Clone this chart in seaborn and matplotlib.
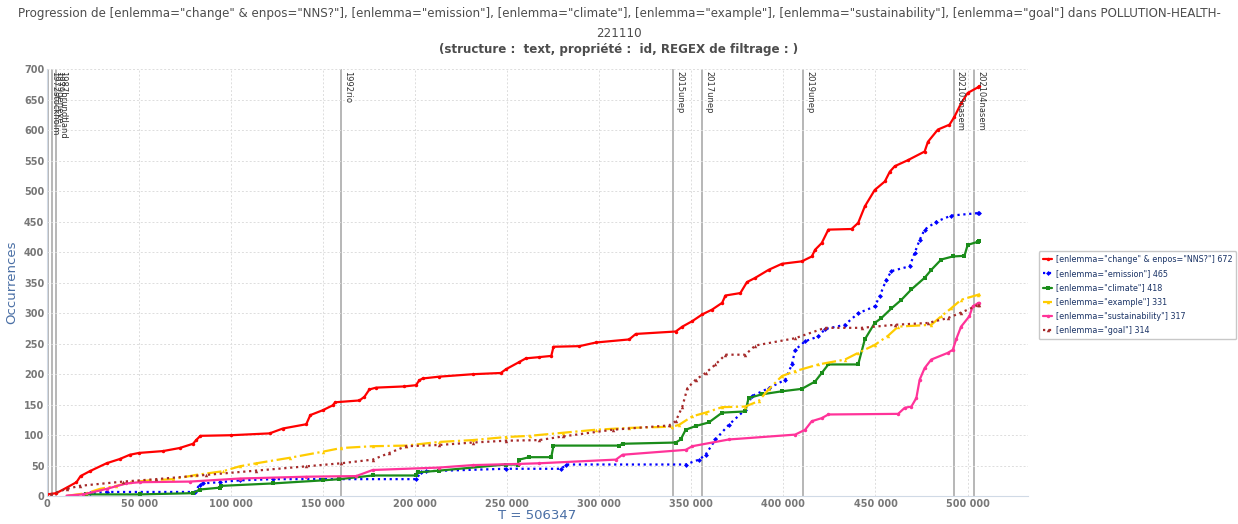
import matplotlib
matplotlib.use("Agg")
import numpy as np
import pandas as pd
import matplotlib.pyplot as plt
import seaborn as sns
from matplotlib.ticker import FuncFormatter, MultipleLocator

# series (position T, cumulated occurrences)
change_x = [0, 5000, 10600, 16000, 18200, 23200, 32300, 39500, 45000, 50000, 63000, 72000, 79300, 81000, 83300,
            100000, 120900, 128100, 140800, 143000, 149800, 155200, 156500, 169700, 172400, 175100, 178700, 194100,
            200400, 202200, 204000, 213100, 231200, 246500, 249200, 256500, 260100, 267300, 273900, 275100, 289200,
            298200, 316200, 319800, 341500, 345100, 350500, 355900, 361300, 366700, 368500, 376600, 380200, 384700,
            391900, 399200, 410000, 415400, 417200, 420800, 424400, 437000, 440600, 444200, 449600, 455100, 457800,
            460500, 467700, 476700, 478500, 483900, 490200, 492900, 496500, 500100, 505500, 506347]
change_y = [3, 5, 14, 23, 33, 41, 54, 61, 68, 71, 74, 79, 86, 92, 99,
            100, 103, 111, 118, 133, 141, 149, 154, 157, 163, 175, 178, 180,
            182, 190, 193, 196, 200, 202, 208, 220, 226, 228, 230, 245, 246,
            252, 257, 266, 270, 278, 287, 298, 306, 317, 329, 333, 351, 358,
            371, 381, 385, 393, 404, 415, 437, 438, 448, 475, 502, 516, 532,
            541, 551, 565, 581, 601, 609, 622, 644, 661, 670, 672]

emission_x = [16000, 20500, 23200, 32300, 80200, 82900, 84700, 93700, 104600, 122700, 200400, 203100, 205800, 249200,
              279300, 282000, 346900, 354100, 357700, 363100, 370300, 379300, 382900, 391900, 401000, 404600, 406400,
              411800, 419000, 422600, 433400, 440600, 449600, 452300, 455900, 458700, 468600, 471300, 474000, 476700,
              483000, 491100, 505500, 506347]
emission_y = [0, 1, 5, 7, 7, 19, 21, 23, 26, 28, 28, 39, 41, 45,
              45, 52, 52, 60, 68, 93, 117, 142, 164, 177, 191, 216, 240,
              254, 262, 274, 281, 300, 311, 328, 355, 369, 377, 399, 420, 437,
              450, 460, 464, 465]

climate_x = [21400, 50400, 79300, 82900, 93700, 94700, 122700, 149800, 158800, 176900, 200400, 201300, 213100, 249200,
             255600, 256500, 261900, 273900, 275100, 310800, 312600, 341500, 344200, 346900, 352300, 359500, 366700,
             379300, 381100, 388300, 399200, 410000, 417200, 420800, 424400, 440600, 444200, 449600, 453200, 458700,
             464100, 469500, 476700, 480300, 485700, 492000, 498300, 500100, 505500, 506347]
climate_y = [3, 3, 5, 11, 14, 17, 21, 26, 28, 34, 34, 39, 42, 52,
             52, 60, 64, 64, 83, 83, 86, 88, 93, 109, 115, 121, 137,
             139, 161, 167, 172, 176, 188, 202, 216, 216, 257, 284, 292, 308,
             322, 339, 358, 371, 388, 393, 394, 412, 417, 418]

example_x = [11500, 21400, 28700, 37700, 45000, 55800, 68400, 81100, 95600, 104600, 113700, 131800, 149800, 159700,
             176900, 195000, 213100, 231200, 249200, 262100, 280200, 298200, 316200, 339700, 343300, 350500, 357700,
             366700, 379300, 386500, 391900, 399200, 406400, 419000, 433400, 440600, 449600, 456800, 462300, 480300,
             485700, 491100, 496500, 505500, 506347]
example_y = [1, 5, 12, 17, 23, 26, 28, 35, 41, 49, 54, 63, 73, 79,
             82, 83, 89, 92, 97, 99, 104, 109, 112, 114, 117, 131, 137,
             146, 147, 156, 175, 197, 205, 216, 224, 235, 248, 263, 278, 281,
             295, 308, 322, 330, 331]

sustain_x = [10600, 19600, 32300, 43100, 50400, 77500, 104600, 140800, 167900, 176900, 213100, 231200, 256500, 267300,
             309000, 312600, 346900, 350500, 370300, 406400, 411800, 415400, 420800, 424400, 462300, 465900, 469500,
             472200, 474000, 476700, 480300, 489300, 492000, 493800, 496500, 501000, 502800, 505500, 506347]
sustain_y = [1, 3, 12, 21, 23, 24, 29, 32, 33, 43, 47, 51, 53, 54,
             60, 68, 76, 82, 93, 101, 109, 123, 128, 134, 135, 145, 147,
             161, 191, 210, 224, 235, 240, 257, 278, 295, 311, 316, 317]

goal_x = [2000, 10600, 17800, 41300, 59400, 86500, 113700, 140800, 159700, 176900, 186000, 195000, 213100, 231200,
          249200, 267300, 280200, 307200, 337900, 341500, 345100, 347800, 352300, 357700, 363100, 368500, 379300,
          384700, 406400, 422600, 442500, 460500, 478500, 489300, 496500, 505500, 506347]
goal_y = [3, 12, 17, 24, 28, 35, 42, 49, 54, 60, 71, 82, 84, 88,
          91, 92, 98, 109, 116, 123, 147, 177, 191, 202, 216, 232, 232,
          247, 259, 276, 276, 281, 284, 292, 301, 313, 314]

series_names = ['[enlemma="change" & enpos="NNS?"] 672', '[enlemma="emission"] 465', '[enlemma="climate"] 418',
                '[enlemma="example"] 331', '[enlemma="sustainability"] 317', '[enlemma="goal"] 314']
series_x = [change_x, emission_x, climate_x, example_x, sustain_x, goal_x]
series_y = [change_y, emission_y, climate_y, example_y, sustain_y, goal_y]

event_x = [700, 2550, 4900, 159700, 340000, 355900, 410500, 492400, 503400]
event_labels = ["1972stockholm", "1979geneve", "1987brundtland", "1992rio", "2015unep", "2017unep",
                "2019unep", "202103nasem", "202104nasem"]

colors = ["#ff0000", "#0000ff", "#1a8c1a", "#ffcc00", "#ff3399", "#a52a2a"]
styles = ["-", ":", "-", "-.", "-", ":"]
markers = ["o", "D", "s", "^", "o", "^"]

rows = []
for name, xs, ys in zip(series_names, series_x, series_y):
    for x, y in zip(xs, ys):
        rows.append({"serie": name, "T": x, "occ": y})
df = pd.DataFrame(rows)

sns.set_style("white")
fig = plt.figure(figsize=(12.38, 5.24), dpi=100)
ax = fig.add_axes([0.038, 0.053, 0.792, 0.815])

for name, c, ls, m in zip(series_names, colors, styles, markers):
    sub = df[df["serie"] == name]
    sns.lineplot(data=sub, x="T", y="occ", ax=ax, color=c, linestyle=ls, linewidth=1.6,
                 marker=m, markersize=2.5, markeredgewidth=0,
                 estimator=None, sort=False, label=name)

for ex, lab in zip(event_x, event_labels):
    ax.axvline(ex, color="#aaaaaa", linewidth=1.2, zorder=0)
    ax.text(ex + 1200, 697, lab, rotation=-90, va="top", ha="left", fontsize=6, color="#333333")

ax.set_xlim(0, 532600)
ax.set_ylim(0, 700)
ax.xaxis.set_major_locator(MultipleLocator(50000))
ax.yaxis.set_major_locator(MultipleLocator(50))
ax.xaxis.set_major_formatter(FuncFormatter(lambda v, p: f"{int(v):,}".replace(",", " ")))
ax.grid(True, color="#dddddd", linestyle=(0, (2, 2)), linewidth=0.7)
ax.tick_params(labelsize=7, colors="#777777", length=0, pad=2)
for lab in ax.get_xticklabels() + ax.get_yticklabels():
    lab.set_fontweight("bold")
for s in ["top", "right"]:
    ax.spines[s].set_visible(False)
for s in ["left", "bottom"]:
    ax.spines[s].set_color("#d0dae6")

ax.set_xlabel("T = 506347", fontsize=9.5, color="#4a6fa5", labelpad=0)
ax.set_ylabel("Occurrences", fontsize=9.5, color="#4a6fa5", labelpad=4)

title_color = "#4d4d4d"
fig.text(0.5, 0.975, 'Progression de [enlemma="change" & enpos="NNS?"], [enlemma="emission"], [enlemma="climate"], '
         '[enlemma="example"], [enlemma="sustainability"], [enlemma="goal"] dans POLLUTION-HEALTH-',
         ha="center", va="center", fontsize=8.6, color=title_color)
fig.text(0.5, 0.937, "221110", ha="center", va="center", fontsize=8.6, color=title_color)
fig.text(0.5, 0.906, "(structure :  text, propriété :  id, REGEX de filtrage : )", ha="center", va="center",
         fontsize=8.6, color=title_color, fontweight="semibold")

leg = ax.legend(loc="center left", bbox_to_anchor=(0.839, 0.437), bbox_transform=fig.transFigure,
                fontsize=5.8, frameon=True, handlelength=1.2, handletextpad=0.4, borderpad=0.5,
                borderaxespad=0, labelspacing=0.65, fancybox=True)
leg.get_frame().set_edgecolor("#bbbbbb")
for t in leg.get_texts():
    t.set_color("#1a3366")

fig.savefig("out.png", dpi=100)
